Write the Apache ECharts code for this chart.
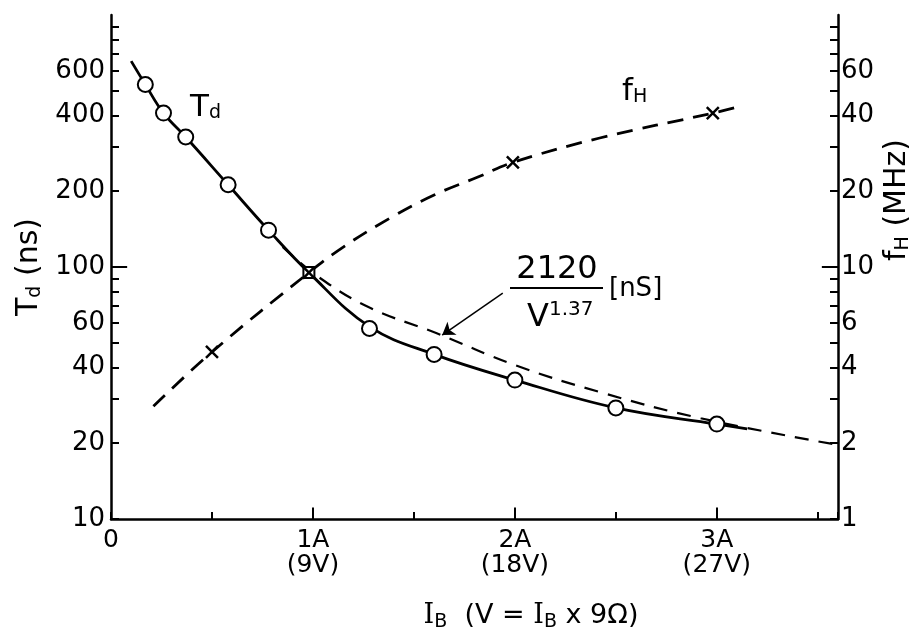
<!DOCTYPE html>
<html>
<head>
<meta charset="utf-8">
<script src="https://cdn.jsdelivr.net/npm/echarts@6/dist/echarts.min.js"></script>
<style>
  html, body { margin: 0; background: #fff; }
  #main { width: 924px; height: 637px; }
</style>
</head>
<body>
<div id="main"></div>
<script>
// delay time Td (ns) vs base current IB
var tdX = [0.17, 0.26, 0.37, 0.58, 0.78, 0.98, 1.28, 1.6, 2.0, 2.5, 3.0];
var tdY = [530, 408, 328, 212, 140, 95, 57, 45, 35.6, 27.6, 23.8];
var tdCurveX = [0.1, 0.17, 0.26, 0.37, 0.58, 0.78, 0.98, 1.28, 1.6, 2.0, 2.5, 3.0, 3.15];
var tdCurveY = [656, 530, 408, 328, 212, 140, 95, 58, 45, 35.6, 27.6, 23.8, 22.8];

// fH (MHz), right axis
var fhX = [0.5, 0.98, 1.99, 2.98];
var fhY = [4.6, 9.5, 26, 40.8];
var fhCurveX = [0.21, 0.5, 0.98, 1.15, 1.38, 1.6, 1.82, 1.99, 2.42, 2.98, 3.12];
var fhCurveY = [2.8, 4.6, 9.5, 12.0, 15.6, 19.3, 22.8, 26, 32.5, 40.8, 43.5];

// 2120 / V^1.37 [nS] curve as drawn
var fitX = [0.85, 1.03, 1.28, 1.61, 2.0, 2.42, 2.92, 3.58];
var fitY = [120, 91, 69, 54.7, 40.8, 31.9, 25.1, 19.8];

// ticks
var xTickValues = [0, 1, 2, 3];
var xTickNames = ['0', '1A\n(9V)', '2A\n(18V)', '3A\n(27V)'];
var leftTicks = [10, 20, 30, 40, 50, 60, 70, 80, 90, 100, 200, 300, 400, 500, 600, 700, 800, 900];
var leftLabels = [10, 20, 40, 60, 100, 200, 400, 600];
var rightTicks = [1, 2, 3, 4, 5, 6, 7, 8, 9, 10, 20, 30, 40, 50, 60, 70, 80, 90];
var rightLabels = [1, 2, 4, 6, 10, 20, 40, 60];

function pairs(xs, ys) {
    return xs.map(function (x, i) { return [x, ys[i]]; });
}

var font = 'DejaVu Sans';
var ink = '#000';
var subStyle = { fontSize: 19, fontFamily: font, verticalAlign: 'bottom', padding: [12, 0, 0, 0] };
var tickStyle = { color: ink, width: 2 };

// longer ticks drawn as short marklines (decades, whole amperes)
function longTicks(segs) {
    return {
        silent: true,
        symbol: 'none',
        label: { show: false },
        lineStyle: { color: ink, width: 2, type: 'solid' },
        data: segs.map(function (s) { return [{ coord: s[0] }, { coord: s[1] }]; })
    };
}

var myChart = echarts.init(document.getElementById('main'));

var option = {
    backgroundColor: '#fff',
    animation: false,
    grid: { left: 111, right: 86, top: 15, bottom: 118, outerBoundsMode: 'none' },
    xAxis: {
        type: 'value',
        min: 0,
        max: 3.6,
        interval: 0.5,
        splitLine: { show: false },
        axisLine: { lineStyle: { color: ink, width: 2.5 } },
        axisTick: { inside: true, length: 7, lineStyle: tickStyle },
        axisLabel: {
            customValues: xTickValues,
            color: ink,
            fontFamily: font,
            fontSize: 25,
            lineHeight: 25,
            margin: 9,
            formatter: function (v) {
                var i = xTickValues.indexOf(v);
                return i < 0 ? '' : xTickNames[i];
            }
        }
    },
    yAxis: [
        {
            type: 'log',
            min: 10,
            max: 1000,
            position: 'left',
            name: 'T{s|d} (ns)',
            nameLocation: 'middle',
            nameGap: 66,
            nameRotate: 90,
            nameTextStyle: { color: ink, fontFamily: font, fontSize: 30, rich: { s: subStyle } },
            splitLine: { show: false },
            axisLine: { show: true, lineStyle: { color: ink, width: 2.5 } },
            axisTick: { inside: true, length: 8, customValues: leftTicks, lineStyle: tickStyle },
            axisLabel: { customValues: leftLabels, color: ink, fontFamily: font, fontSize: 26, margin: 6 }
        },
        {
            type: 'log',
            min: 1,
            max: 100,
            position: 'right',
            splitLine: { show: false },
            axisLine: { show: true, lineStyle: { color: ink, width: 2.5 } },
            axisTick: { inside: true, length: 8, customValues: rightTicks, lineStyle: tickStyle },
            axisLabel: { customValues: rightLabels, color: ink, fontFamily: font, fontSize: 26, margin: 3 }
        }
    ],
    graphic: {
        elements: [
            {
                type: 'text', x: 190, y: 92,
                style: { text: 'T{s|d}', fontSize: 31, fontFamily: font, fill: ink, rich: { s: subStyle } }
            },
            {
                type: 'text', x: 622, y: 76,
                style: { text: 'f{s|H}', fontSize: 31, fontFamily: font, fill: ink, rich: { s: subStyle } }
            },
            {
                type: 'text', x: 897, y: 200, rotation: Math.PI / 2,
                style: {
                    text: 'f{s|H} (MHz)', fontSize: 30, fontFamily: font, fill: ink,
                    align: 'center', verticalAlign: 'middle', rich: { s: subStyle }
                }
            },
            {
                type: 'text', x: 531, y: 616,
                style: {
                    text: '{i|I}{s|B}  (V = {i|I}{s|B} x 9Ω)', fontSize: 27, fontFamily: font, fill: ink,
                    align: 'center', verticalAlign: 'middle',
                    rich: { i: { fontSize: 27, fontFamily: 'DejaVu Serif' }, s: subStyle }
                }
            },
            {
                type: 'text', x: 557, y: 270,
                style: { text: '2120', fontSize: 32, fontFamily: font, fill: ink, align: 'center', verticalAlign: 'middle' }
            },
            {
                type: 'line',
                shape: { x1: 510, y1: 288, x2: 603, y2: 288 },
                style: { stroke: ink, lineWidth: 2 }
            },
            {
                type: 'text', x: 538, y: 318,
                style: { text: 'V', fontSize: 32, fontFamily: font, fill: ink, align: 'center', verticalAlign: 'middle' }
            },
            {
                type: 'text', x: 549, y: 310,
                style: { text: '1.37', fontSize: 20, fontFamily: font, fill: ink, align: 'left', verticalAlign: 'middle' }
            },
            {
                type: 'text', x: 609, y: 289,
                style: { text: '[nS]', fontSize: 26, fontFamily: font, fill: ink, align: 'left', verticalAlign: 'middle' }
            }
        ]
    },
    series: [
        {
            name: 'Td curve',
            type: 'line',
            yAxisIndex: 0,
            data: pairs(tdCurveX, tdCurveY),
            smooth: 0.4,
            symbol: 'none',
            lineStyle: { color: ink, width: 2.8 },
            markLine: longTicks([
                [[0, 100], [0.08, 100]],
                [[1, 10], [1, 11.1]],
                [[2, 10], [2, 11.1]],
                [[3, 10], [3, 11.1]]
            ]),
            z: 3
        },
        {
            name: 'fH curve',
            type: 'line',
            yAxisIndex: 1,
            data: pairs(fhCurveX, fhCurveY),
            smooth: 0.4,
            symbol: 'none',
            lineStyle: { color: ink, width: 2.8, type: [16, 10] },
            markLine: longTicks([[[3.52, 10], [3.6, 10]]]),
            z: 2
        },
        {
            name: '2120/V^1.37',
            type: 'line',
            yAxisIndex: 0,
            data: pairs(fitX, fitY),
            smooth: 0.4,
            symbol: 'none',
            lineStyle: { color: ink, width: 2.2, type: [14, 10] },
            markLine: {
                silent: true,
                symbol: ['none', 'arrow'],
                symbolSize: 12,
                label: { show: false },
                lineStyle: { color: ink, width: 1.5, type: 'solid' },
                data: [[{ coord: [1.94, 78.8] }, { coord: [1.64, 53.7] }]]
            },
            z: 2
        },
        {
            name: 'Td',
            type: 'scatter',
            yAxisIndex: 0,
            data: pairs(tdX, tdY),
            symbol: function (v, p) { return p.dataIndex === 5 ? 'rect' : 'circle'; },
            symbolSize: function (v, p) { return p.dataIndex === 5 ? 11 : 15; },
            itemStyle: { color: '#fff', borderColor: ink, borderWidth: 2, opacity: 1 },
            z: 5
        },
        {
            name: 'fH',
            type: 'scatter',
            yAxisIndex: 1,
            data: pairs(fhX, fhY),
            symbol: 'path://M0 0L10 10M10 0L0 10',
            symbolSize: 12,
            itemStyle: { color: 'none', borderColor: ink, borderWidth: 2.5, opacity: 1 },
            z: 6
        }
    ]
};

myChart.setOption(option);
</script>
</body>
</html>
